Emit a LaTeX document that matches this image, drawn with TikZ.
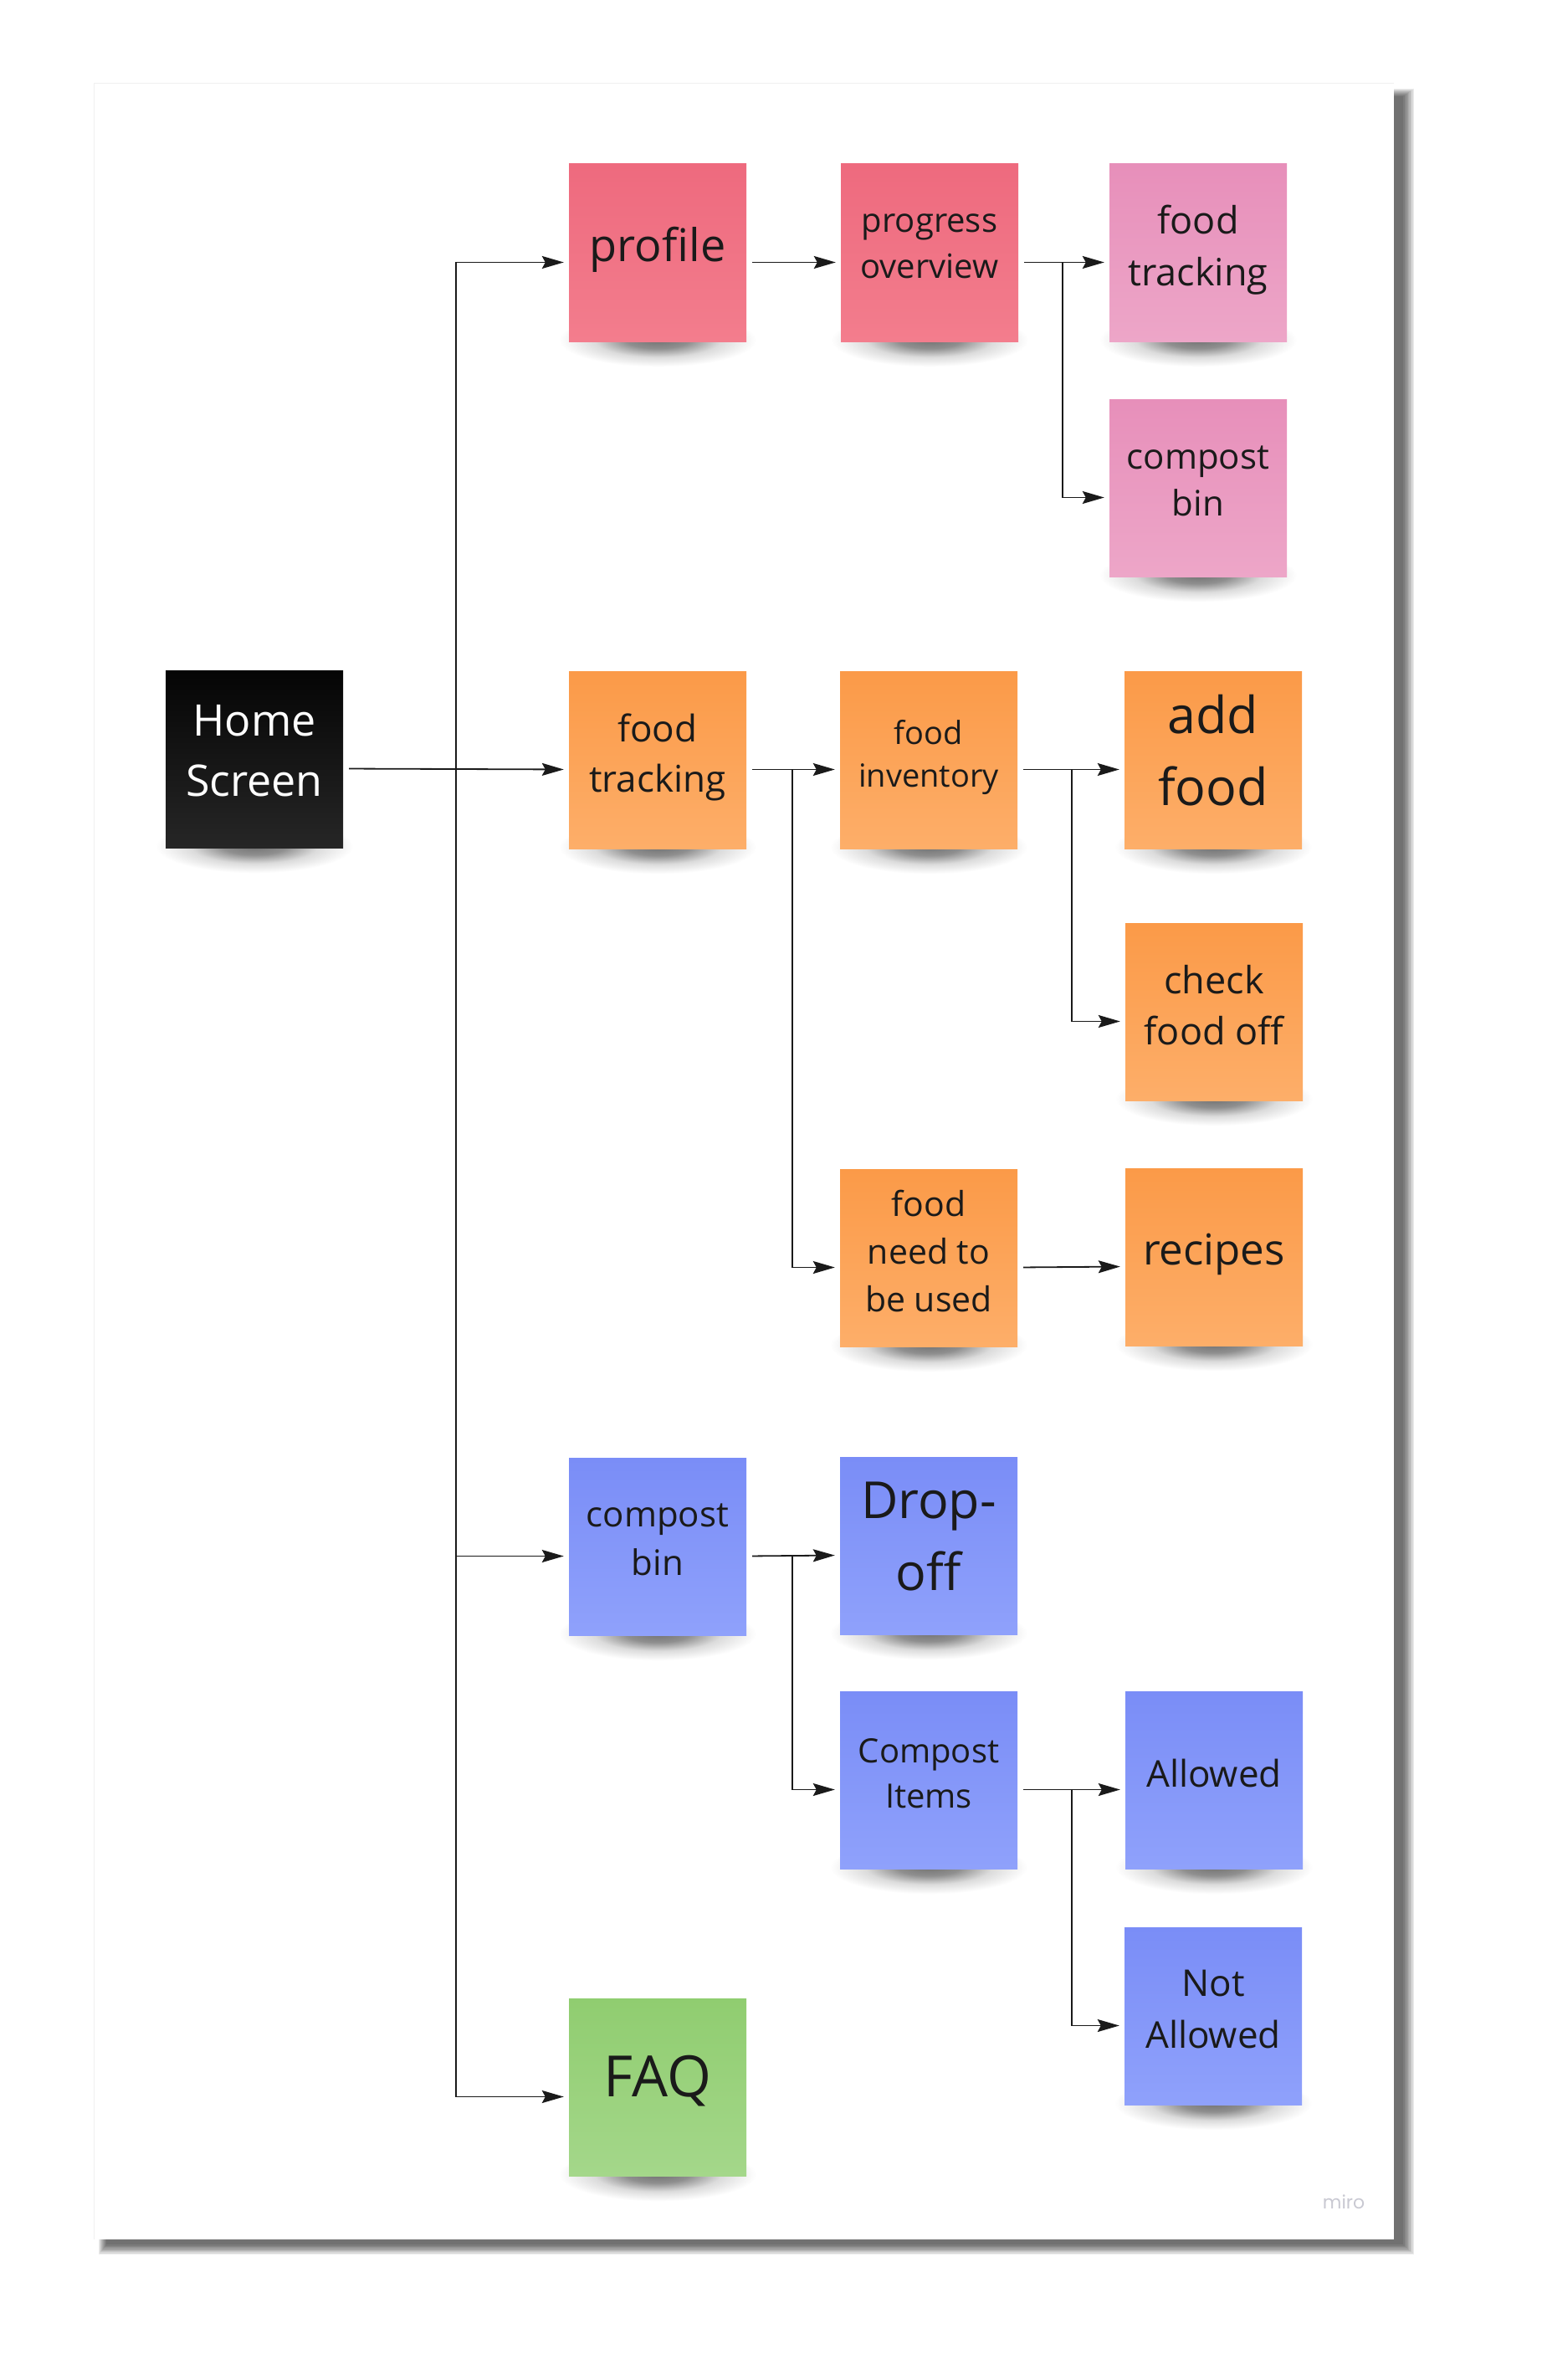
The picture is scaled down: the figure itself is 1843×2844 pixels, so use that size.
\documentclass[tikz,border=0pt]{standalone}
\usepackage{fontspec}
\setmainfont{Open Sans}
\newfontfamily\mirofont{Poppins}
\usetikzlibrary{arrows.meta,calc}
\pgfdeclarelayer{cardlayer}
\pgfdeclarelayer{shadlayer}
\pgfsetlayers{cardlayer,shadlayer,main}
\definecolor{redA}{HTML}{EE6A7E}
\definecolor{redB}{HTML}{F37D8D}
\definecolor{pinkA}{HTML}{E78FBA}
\definecolor{pinkB}{HTML}{EDA6C8}
\definecolor{oraA}{HTML}{FB9A48}
\definecolor{oraB}{HTML}{FDAE69}
\definecolor{bluA}{HTML}{7A8DF7}
\definecolor{bluB}{HTML}{8FA1FB}
\definecolor{grnA}{HTML}{90CD70}
\definecolor{grnB}{HTML}{A4D78A}
\definecolor{blkA}{HTML}{050505}
\definecolor{blkB}{HTML}{262626}
\definecolor{ink}{HTML}{1A1A1A}
\definecolor{mirogray}{HTML}{C9C9D2}
\newcommand\myfs[2]{\fontsize{#1}{#2}\selectfont}
\newcommand\lastdown{\rule[-0.38em]{0pt}{0.38em}}
\pgfdeclareradialshading{noteshadow}{\pgfpoint{0bp}{0bp}}{color(0bp)=(black!55); color(8bp)=(black!44); color(16bp)=(black!14); color(25bp)=(white); color(50bp)=(white)}
\begin{document}
\begin{tikzpicture}[x=1pt,y=-1pt,
  note/.style={minimum width=212pt, minimum height=212pt, inner sep=0pt, align=center, text=ink, execute at end node=\lastdown},
  rednote/.style={note, top color=redA, bottom color=redB},
  pinknote/.style={note, top color=pinkA, bottom color=pinkB},
  oranote/.style={note, top color=oraA, bottom color=oraB},
  blunote/.style={note, top color=bluA, bottom color=bluB},
  grnnote/.style={note, top color=grnA, bottom color=grnB},
  blknote/.style={note, top color=blkA, bottom color=blkB, text=white},
  conn/.style={draw=ink, line width=1.8pt, shorten <=7pt, shorten >=6pt, -{Stealth[length=26pt,width=15pt,inset=4pt]}},
]
\useasboundingbox (0,0) rectangle (1843,2844);

% card and its shadow
\begin{pgfonlayer}{cardlayer}
  \foreach \i in {0,...,9}
    \fill[black, opacity=0.08] (118+\i, 106+\i) rectangle (1690-1.4*\i, 2694-1.3*\i);
  \fill[white] (112,100) rectangle (1666,2676);
  \draw[black!6, line width=1pt] (112,2676) -- (112,100) -- (1666,100);
\end{pgfonlayer}

% notes
\node[rednote, font=\myfs{54}{64}] (profile) at (786,302) {profile};
\node[rednote, font=\myfs{40}{55}] (prog) at (1111,302) {progress\\overview};
\node[pinknote, font=\myfs{45}{62}] (pft) at (1432,302) {food\\tracking};
\node[pinknote, font=\myfs{42}{56}] (pcb) at (1432,583) {compost\\bin};
\node[blknote, font=\myfs{52}{72}] (home) at (304,907) {Home\\Screen};
\node[oranote, font=\myfs{44}{60}] (oft) at (786,908) {food\\tracking};
\node[oranote, font=\myfs{38}{51}] (inv) at (1110,908) {food\\inventory};
\node[oranote, font=\myfs{61}{86}] (add) at (1450,908) {add\\food};
\node[oranote, font=\myfs{45}{61}] (check) at (1451,1209) {check\\food off};
\node[oranote, font=\myfs{41}{57}] (need) at (1110,1503) {food\\need to\\be used};
\node[oranote, font=\myfs{51}{60}] (recipes) at (1451,1502) {recipes};
\node[blunote, font=\myfs{42}{58}] (bcb) at (786,1848) {compost\\bin};
\node[blunote, font=\myfs{61}{86}] (drop) at (1110,1847) {Drop-\\off};
\node[blunote, font=\myfs{40}{54}] (items) at (1110,2127) {Compost\\Items};
\node[blunote, font=\myfs{44}{54}] (allowed) at (1451,2127) {Allowed};
\node[blunote, font=\myfs{44}{62}] (notal) at (1450,2409) {Not\\Allowed};
\node[grnnote, font=\myfs{68}{80}] (faq) at (786,2494) {FAQ};

\node[text=mirogray, font=\mirofont\myfs{22}{26}, inner sep=0pt, anchor=base] (miro) at (1606,2639) {miro};

% note shadows
\begin{pgfonlayer}{shadlayer}
  \foreach \n in {profile,prog,pft,pcb,home,oft,inv,add,check,need,recipes,bcb,drop,items,allowed,notal,faq}
    \shade[shading=noteshadow] ([yshift=2pt]\n.south) ellipse [x radius=118pt, y radius=32pt];
\end{pgfonlayer}

% ports
\foreach \n in {profile,prog,pft,pcb,home,oft,inv,add,check,need,recipes,bcb,drop,items,allowed,notal,faq}{
  \coordinate (\n-o) at ([yshift=-11.5pt]\n.east);
  \coordinate (\n-i) at ([yshift=-11.5pt]\n.west);
}
\coordinate (trx) at (545,0);
\coordinate (b1) at (1270,0);
\coordinate (b2) at (947,0);
\coordinate (b3) at (1281,0);

% connectors
\draw[conn] (home-o) -- (oft-i);
\draw[conn] (home-o) -- (home-o -| trx) |- (profile-i);
\draw[conn] (home-o) -- (home-o -| trx) |- (bcb-i);
\draw[conn] (home-o) -- (home-o -| trx) |- (faq-i);
\draw[conn] (profile-o) -- (prog-i);
\draw[conn] (prog-o) -- (pft-i);
\draw[conn] (prog-o) -- (prog-o -| b1) |- (pcb-i);
\draw[conn] (oft-o) -- (inv-i);
\draw[conn] (oft-o) -- (oft-o -| b2) |- (need-i);
\draw[conn] (inv-o) -- (add-i);
\draw[conn] (inv-o) -- (inv-o -| b3) |- (check-i);
\draw[conn] (need-o) -- (recipes-i);
\draw[conn] (bcb-o) -- (drop-i);
\draw[conn] (bcb-o) -- (bcb-o -| b2) |- (items-i);
\draw[conn] (items-o) -- (allowed-i);
\draw[conn] (items-o) -- (items-o -| b3) |- (notal-i);
\end{tikzpicture}
\end{document}
